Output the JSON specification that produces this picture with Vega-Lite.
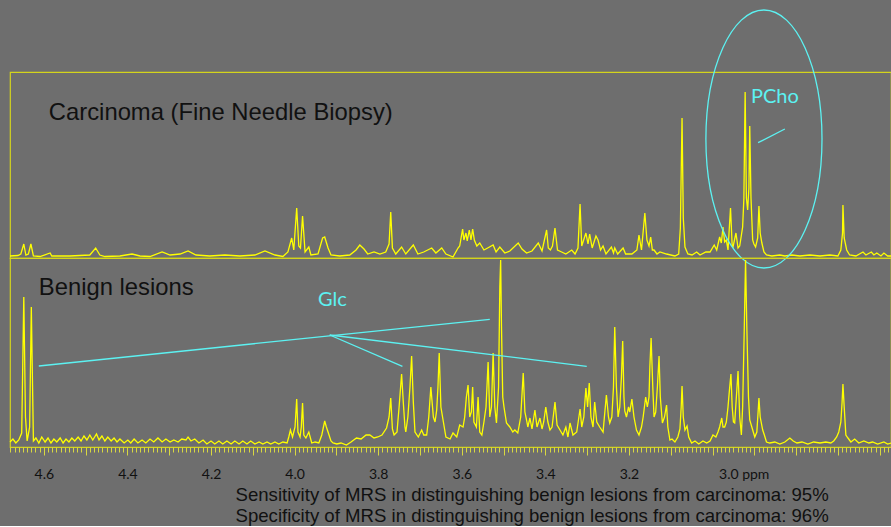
{
"$schema": "https://vega.github.io/schema/vega-lite/v6.json",
"background": "#6e6e6e",
"padding": {"left": 6, "top": 6, "right": 0, "bottom": 0},
"bounds": "flush",
"spacing": 0,
"config": {"view": {"stroke": "#d4d41c", "strokeWidth": 1.2}},
"datasets": {
"top": [{"p":4.681,"v":2},{"p":4.662,"v":2.5},{"p":4.655,"v":4},{"p":4.648,"v":14},{"p":4.643,"v":3},{"p":4.637,"v":4},{"p":4.631,"v":14},{"p":4.625,"v":2},{"p":4.609,"v":1.5},{"p":4.585,"v":5},{"p":4.581,"v":2},{"p":4.538,"v":2},{"p":4.490,"v":3},{"p":4.476,"v":10},{"p":4.466,"v":3},{"p":4.454,"v":1.5},{"p":4.418,"v":2},{"p":4.389,"v":4},{"p":4.370,"v":2},{"p":4.346,"v":1.5},{"p":4.317,"v":6},{"p":4.298,"v":3},{"p":4.274,"v":4},{"p":4.255,"v":7},{"p":4.236,"v":3},{"p":4.203,"v":2},{"p":4.167,"v":3},{"p":4.131,"v":2},{"p":4.095,"v":3},{"p":4.071,"v":7},{"p":4.047,"v":3},{"p":4.028,"v":1.5},{"p":4.016,"v":6},{"p":4.007,"v":20},{"p":4.002,"v":8},{"p":3.995,"v":50},{"p":3.990,"v":12},{"p":3.986,"v":10},{"p":3.981,"v":42},{"p":3.975,"v":6},{"p":3.966,"v":11},{"p":3.961,"v":3},{"p":3.944,"v":4},{"p":3.933,"v":20},{"p":3.928,"v":21},{"p":3.920,"v":10},{"p":3.913,"v":3},{"p":3.892,"v":2},{"p":3.868,"v":3},{"p":3.853,"v":8},{"p":3.844,"v":13},{"p":3.834,"v":9},{"p":3.825,"v":4},{"p":3.810,"v":6},{"p":3.796,"v":4},{"p":3.782,"v":6},{"p":3.774,"v":14},{"p":3.770,"v":46},{"p":3.766,"v":10},{"p":3.758,"v":4},{"p":3.744,"v":11},{"p":3.734,"v":4},{"p":3.716,"v":13},{"p":3.705,"v":4},{"p":3.691,"v":6},{"p":3.672,"v":10},{"p":3.662,"v":5},{"p":3.648,"v":10},{"p":3.638,"v":4},{"p":3.621,"v":1},{"p":3.609,"v":10},{"p":3.605,"v":12},{"p":3.598,"v":29},{"p":3.595,"v":18},{"p":3.590,"v":25},{"p":3.587,"v":17},{"p":3.582,"v":28},{"p":3.578,"v":18},{"p":3.574,"v":29},{"p":3.570,"v":18},{"p":3.564,"v":12},{"p":3.557,"v":15},{"p":3.547,"v":8},{"p":3.538,"v":10},{"p":3.525,"v":13},{"p":3.518,"v":6},{"p":3.509,"v":11},{"p":3.497,"v":5},{"p":3.485,"v":7},{"p":3.465,"v":15},{"p":3.456,"v":9},{"p":3.445,"v":5},{"p":3.432,"v":7},{"p":3.417,"v":15},{"p":3.408,"v":7},{"p":3.397,"v":28},{"p":3.393,"v":10},{"p":3.388,"v":8},{"p":3.383,"v":12},{"p":3.377,"v":30},{"p":3.371,"v":8},{"p":3.361,"v":6},{"p":3.351,"v":4},{"p":3.337,"v":8},{"p":3.329,"v":4},{"p":3.322,"v":10},{"p":3.317,"v":54},{"p":3.313,"v":12},{"p":3.303,"v":25},{"p":3.298,"v":14},{"p":3.294,"v":24},{"p":3.288,"v":10},{"p":3.279,"v":22},{"p":3.274,"v":18},{"p":3.268,"v":8},{"p":3.262,"v":12},{"p":3.255,"v":4},{"p":3.242,"v":11},{"p":3.237,"v":5},{"p":3.234,"v":10},{"p":3.227,"v":4},{"p":3.214,"v":10},{"p":3.208,"v":4},{"p":3.193,"v":4},{"p":3.181,"v":8},{"p":3.176,"v":23},{"p":3.170,"v":8},{"p":3.162,"v":45},{"p":3.157,"v":18},{"p":3.152,"v":12},{"p":3.148,"v":21},{"p":3.144,"v":8},{"p":3.140,"v":8},{"p":3.133,"v":4},{"p":3.126,"v":6},{"p":3.110,"v":4},{"p":3.090,"v":2},{"p":3.081,"v":4},{"p":3.077,"v":30},{"p":3.073,"v":140},{"p":3.070,"v":40},{"p":3.066,"v":11},{"p":3.059,"v":4},{"p":3.049,"v":3},{"p":3.038,"v":6},{"p":3.030,"v":3},{"p":3.016,"v":6},{"p":3.006,"v":6},{"p":2.996,"v":13},{"p":2.990,"v":8},{"p":2.983,"v":21},{"p":2.979,"v":15},{"p":2.975,"v":31},{"p":2.971,"v":16},{"p":2.967,"v":18},{"p":2.963,"v":8},{"p":2.957,"v":50},{"p":2.953,"v":12},{"p":2.951,"v":11},{"p":2.944,"v":25},{"p":2.939,"v":10},{"p":2.935,"v":12},{"p":2.928,"v":31},{"p":2.925,"v":60},{"p":2.922,"v":166},{"p":2.919,"v":60},{"p":2.916,"v":48},{"p":2.913,"v":70},{"p":2.911,"v":132},{"p":2.908,"v":60},{"p":2.904,"v":18},{"p":2.901,"v":14},{"p":2.897,"v":11},{"p":2.892,"v":20},{"p":2.889,"v":52},{"p":2.886,"v":25},{"p":2.882,"v":15},{"p":2.877,"v":6},{"p":2.871,"v":3},{"p":2.858,"v":2},{"p":2.839,"v":3},{"p":2.827,"v":2},{"p":2.810,"v":3},{"p":2.791,"v":2},{"p":2.767,"v":3},{"p":2.743,"v":2},{"p":2.719,"v":3},{"p":2.700,"v":2},{"p":2.693,"v":8},{"p":2.689,"v":25},{"p":2.688,"v":53},{"p":2.685,"v":20},{"p":2.679,"v":8},{"p":2.672,"v":3},{"p":2.657,"v":2},{"p":2.640,"v":6},{"p":2.633,"v":3},{"p":2.620,"v":6},{"p":2.614,"v":3},{"p":2.607,"v":5},{"p":2.597,"v":2},{"p":2.590,"v":5},{"p":2.581,"v":2},{"p":2.573,"v":2}],
"bottom": [{"p":4.681,"v":5},{"p":4.674,"v":8},{"p":4.667,"v":4},{"p":4.660,"v":7},{"p":4.653,"v":14},{"p":4.648,"v":150},{"p":4.644,"v":30},{"p":4.640,"v":6},{"p":4.634,"v":20},{"p":4.630,"v":140},{"p":4.625,"v":6},{"p":4.619,"v":9},{"p":4.612,"v":4},{"p":4.605,"v":10},{"p":4.597,"v":5},{"p":4.590,"v":9},{"p":4.583,"v":4},{"p":4.576,"v":8},{"p":4.569,"v":5},{"p":4.561,"v":9},{"p":4.554,"v":4},{"p":4.547,"v":8},{"p":4.540,"v":5},{"p":4.533,"v":9},{"p":4.526,"v":6},{"p":4.518,"v":10},{"p":4.511,"v":6},{"p":4.504,"v":11},{"p":4.497,"v":7},{"p":4.490,"v":12},{"p":4.483,"v":7},{"p":4.474,"v":13},{"p":4.468,"v":7},{"p":4.461,"v":11},{"p":4.454,"v":6},{"p":4.447,"v":10},{"p":4.439,"v":6},{"p":4.432,"v":9},{"p":4.425,"v":5},{"p":4.418,"v":8},{"p":4.408,"v":4},{"p":4.399,"v":7},{"p":4.392,"v":4},{"p":4.384,"v":8},{"p":4.375,"v":4},{"p":4.365,"v":7},{"p":4.356,"v":4},{"p":4.346,"v":8},{"p":4.337,"v":5},{"p":4.327,"v":9},{"p":4.317,"v":5},{"p":4.308,"v":8},{"p":4.298,"v":5},{"p":4.289,"v":7},{"p":4.279,"v":5},{"p":4.270,"v":8},{"p":4.260,"v":7},{"p":4.255,"v":10},{"p":4.248,"v":6},{"p":4.239,"v":8},{"p":4.229,"v":4},{"p":4.219,"v":7},{"p":4.210,"v":3},{"p":4.200,"v":6},{"p":4.191,"v":3},{"p":4.181,"v":6},{"p":4.172,"v":3},{"p":4.162,"v":6},{"p":4.152,"v":3},{"p":4.143,"v":6},{"p":4.133,"v":3},{"p":4.124,"v":6},{"p":4.114,"v":3},{"p":4.105,"v":6},{"p":4.095,"v":3},{"p":4.085,"v":5},{"p":4.076,"v":3},{"p":4.066,"v":5},{"p":4.057,"v":3},{"p":4.047,"v":5},{"p":4.038,"v":3},{"p":4.028,"v":5},{"p":4.018,"v":4},{"p":4.014,"v":10},{"p":4.010,"v":17},{"p":4.005,"v":10},{"p":3.999,"v":20},{"p":3.995,"v":48},{"p":3.992,"v":15},{"p":3.987,"v":10},{"p":3.984,"v":20},{"p":3.981,"v":44},{"p":3.978,"v":12},{"p":3.973,"v":9},{"p":3.966,"v":15},{"p":3.959,"v":4},{"p":3.951,"v":5},{"p":3.942,"v":4},{"p":3.935,"v":12},{"p":3.928,"v":26},{"p":3.924,"v":20},{"p":3.920,"v":15},{"p":3.913,"v":6},{"p":3.908,"v":4},{"p":3.899,"v":3},{"p":3.889,"v":4},{"p":3.876,"v":2},{"p":3.865,"v":5},{"p":3.852,"v":9},{"p":3.841,"v":8},{"p":3.829,"v":12},{"p":3.820,"v":12},{"p":3.810,"v":9},{"p":3.801,"v":10},{"p":3.791,"v":12},{"p":3.780,"v":19},{"p":3.774,"v":30},{"p":3.770,"v":49},{"p":3.766,"v":18},{"p":3.762,"v":12},{"p":3.755,"v":15},{"p":3.750,"v":40},{"p":3.744,"v":73},{"p":3.740,"v":45},{"p":3.736,"v":20},{"p":3.734,"v":15},{"p":3.729,"v":30},{"p":3.724,"v":60},{"p":3.720,"v":91},{"p":3.716,"v":45},{"p":3.712,"v":15},{"p":3.704,"v":10},{"p":3.696,"v":17},{"p":3.691,"v":12},{"p":3.684,"v":12},{"p":3.679,"v":30},{"p":3.674,"v":60},{"p":3.668,"v":30},{"p":3.664,"v":25},{"p":3.660,"v":37},{"p":3.657,"v":60},{"p":3.654,"v":94},{"p":3.650,"v":40},{"p":3.644,"v":25},{"p":3.638,"v":10},{"p":3.628,"v":8},{"p":3.621,"v":14},{"p":3.612,"v":10},{"p":3.605,"v":22},{"p":3.597,"v":20},{"p":3.593,"v":30},{"p":3.589,"v":50},{"p":3.585,"v":62},{"p":3.581,"v":30},{"p":3.577,"v":35},{"p":3.574,"v":60},{"p":3.571,"v":25},{"p":3.565,"v":20},{"p":3.561,"v":50},{"p":3.557,"v":15},{"p":3.552,"v":12},{"p":3.547,"v":25},{"p":3.542,"v":40},{"p":3.537,"v":85},{"p":3.533,"v":30},{"p":3.529,"v":40},{"p":3.525,"v":94},{"p":3.521,"v":40},{"p":3.517,"v":24},{"p":3.512,"v":60},{"p":3.509,"v":160},{"p":3.507,"v":187},{"p":3.505,"v":120},{"p":3.502,"v":50},{"p":3.499,"v":40},{"p":3.493,"v":24},{"p":3.485,"v":20},{"p":3.478,"v":15},{"p":3.473,"v":17},{"p":3.466,"v":14},{"p":3.459,"v":30},{"p":3.453,"v":74},{"p":3.449,"v":35},{"p":3.445,"v":27},{"p":3.442,"v":20},{"p":3.437,"v":29},{"p":3.432,"v":18},{"p":3.425,"v":37},{"p":3.420,"v":20},{"p":3.413,"v":29},{"p":3.408,"v":18},{"p":3.404,"v":25},{"p":3.399,"v":40},{"p":3.394,"v":25},{"p":3.389,"v":17},{"p":3.384,"v":20},{"p":3.377,"v":45},{"p":3.372,"v":22},{"p":3.365,"v":17},{"p":3.358,"v":12},{"p":3.351,"v":20},{"p":3.346,"v":10},{"p":3.341,"v":24},{"p":3.334,"v":12},{"p":3.325,"v":15},{"p":3.317,"v":38},{"p":3.313,"v":20},{"p":3.308,"v":30},{"p":3.303,"v":59},{"p":3.299,"v":40},{"p":3.295,"v":64},{"p":3.291,"v":30},{"p":3.286,"v":20},{"p":3.282,"v":45},{"p":3.277,"v":25},{"p":3.270,"v":20},{"p":3.262,"v":15},{"p":3.254,"v":52},{"p":3.249,"v":30},{"p":3.246,"v":24},{"p":3.241,"v":30},{"p":3.237,"v":60},{"p":3.234,"v":120},{"p":3.230,"v":60},{"p":3.226,"v":30},{"p":3.222,"v":40},{"p":3.218,"v":70},{"p":3.215,"v":106},{"p":3.212,"v":50},{"p":3.210,"v":36},{"p":3.206,"v":30},{"p":3.201,"v":40},{"p":3.198,"v":35},{"p":3.193,"v":48},{"p":3.188,"v":30},{"p":3.182,"v":17},{"p":3.176,"v":12},{"p":3.170,"v":20},{"p":3.166,"v":30},{"p":3.160,"v":50},{"p":3.156,"v":40},{"p":3.152,"v":50},{"p":3.150,"v":80},{"p":3.147,"v":109},{"p":3.143,"v":60},{"p":3.140,"v":30},{"p":3.136,"v":35},{"p":3.132,"v":60},{"p":3.128,"v":91},{"p":3.125,"v":50},{"p":3.120,"v":24},{"p":3.115,"v":30},{"p":3.110,"v":42},{"p":3.107,"v":20},{"p":3.102,"v":7},{"p":3.097,"v":8},{"p":3.090,"v":5},{"p":3.083,"v":10},{"p":3.078,"v":18},{"p":3.075,"v":40},{"p":3.073,"v":61},{"p":3.070,"v":30},{"p":3.066,"v":17},{"p":3.061,"v":21},{"p":3.057,"v":10},{"p":3.050,"v":4},{"p":3.042,"v":6},{"p":3.033,"v":3},{"p":3.023,"v":6},{"p":3.014,"v":4},{"p":3.006,"v":6},{"p":2.999,"v":12},{"p":2.992,"v":10},{"p":2.987,"v":15},{"p":2.983,"v":20},{"p":2.978,"v":29},{"p":2.975,"v":20},{"p":2.971,"v":20},{"p":2.967,"v":25},{"p":2.963,"v":40},{"p":2.960,"v":55},{"p":2.956,"v":73},{"p":2.953,"v":40},{"p":2.950,"v":25},{"p":2.947,"v":24},{"p":2.943,"v":50},{"p":2.939,"v":76},{"p":2.935,"v":30},{"p":2.931,"v":12},{"p":2.928,"v":40},{"p":2.924,"v":120},{"p":2.921,"v":187},{"p":2.918,"v":120},{"p":2.914,"v":50},{"p":2.911,"v":27},{"p":2.906,"v":20},{"p":2.899,"v":10},{"p":2.894,"v":15},{"p":2.891,"v":35},{"p":2.889,"v":49},{"p":2.886,"v":30},{"p":2.880,"v":17},{"p":2.876,"v":12},{"p":2.871,"v":5},{"p":2.863,"v":4},{"p":2.851,"v":5},{"p":2.839,"v":3},{"p":2.827,"v":5},{"p":2.815,"v":9},{"p":2.807,"v":6},{"p":2.798,"v":4},{"p":2.786,"v":5},{"p":2.772,"v":3},{"p":2.758,"v":5},{"p":2.743,"v":4},{"p":2.729,"v":5},{"p":2.717,"v":4},{"p":2.710,"v":6},{"p":2.703,"v":10},{"p":2.698,"v":15},{"p":2.693,"v":25},{"p":2.690,"v":45},{"p":2.688,"v":63},{"p":2.685,"v":40},{"p":2.681,"v":12},{"p":2.676,"v":9},{"p":2.669,"v":5},{"p":2.660,"v":8},{"p":2.650,"v":4},{"p":2.638,"v":6},{"p":2.626,"v":4},{"p":2.617,"v":5},{"p":2.605,"v":3},{"p":2.590,"v":5},{"p":2.581,"v":3},{"p":2.573,"v":4}]
},
"vconcat": [
{
"width": 881, "height": 186,
"layer": [
{"data": {"name": "top"}, "mark": {"type": "line", "color": "#ffff00", "strokeWidth": 1.3},
 "encoding": {"x": {"field": "p", "type": "quantitative", "scale": {"domain": [4.681, 2.573], "nice": false, "zero": false}, "axis": null},
  "y": {"field": "v", "type": "quantitative", "scale": {"domain": [0, 186], "nice": false, "zero": false}, "axis": null}}},
{"data": {"values": [{"p": 4.588, "v": 138, "t": "Carcinoma (Fine Needle Biopsy)"}]},
 "mark": {"type": "text", "align": "left", "baseline": "alphabetic", "font": "Liberation Sans", "fontSize": 23.8, "color": "#111111"},
 "encoding": {"x": {"field": "p", "type": "quantitative"}, "y": {"field": "v", "type": "quantitative"}, "text": {"field": "t"}}},
{"data": {"values": [{"p": 2.908, "v": 155, "t": "PCho"}]},
 "mark": {"type": "text", "align": "left", "baseline": "alphabetic", "font": "Lato", "fontSize": 20, "color": "#5cf2f2"},
 "encoding": {"x": {"field": "p", "type": "quantitative"}, "y": {"field": "v", "type": "quantitative"}, "text": {"field": "t"}}},
{"data": {"values": [{"p": 2.891, "v": 115.3, "p2": 2.827, "v2": 129}]},
 "mark": {"type": "rule", "color": "#5cf2f2", "strokeWidth": 1.3},
 "encoding": {"x": {"field": "p", "type": "quantitative"}, "y": {"field": "v", "type": "quantitative"}, "x2": {"field": "p2"}, "y2": {"field": "v2"}}},
{"data": {"values": [{"p": 2.877, "v": 119}]},
 "mark": {"type": "point", "shape": "M0.45,0C0.45,0.5523 0.2485,1 0,1C-0.2485,1 -0.45,0.5523 -0.45,0C-0.45,-0.5523 -0.2485,-1 0,-1C0.2485,-1 0.45,-0.5523 0.45,0Z", "size": 66564, "filled": false, "color": "#5cf2f2", "strokeWidth": 1.3, "opacity": 1},
 "encoding": {"x": {"field": "p", "type": "quantitative"}, "y": {"field": "v", "type": "quantitative"}}}
]
},
{
"width": 881, "height": 189,
"layer": [
{"data": {"name": "bottom"}, "mark": {"type": "line", "color": "#ffff00", "strokeWidth": 1.3},
 "encoding": {"x": {"field": "p", "type": "quantitative", "scale": {"domain": [4.681, 2.573], "nice": false, "zero": false},
   "axis": {"orient": "bottom", "domain": false, "grid": false, "tickCount": 210, "labelOverlap": false, "labelFlush": false,
    "tickColor": "#d8d840", "tickWidth": 1,
    "tickSize": {"condition": {"test": "abs(datum.value*10-round(datum.value*10))<0.001", "value": 8}, "value": 5},
    "labelExpr": "datum.value > 2.99 && abs(datum.value*5-round(datum.value*5))<0.001 ? (abs(datum.value-3)<0.001 ? '3.0 ppm' : format(datum.value,'.1f')) : ''",
    "labelFont": "Lato", "labelFontSize": 14, "labelColor": "#111111", "labelPadding": 12,
    "labelAlign": {"condition": {"test": "abs(datum.value-3)<0.001", "value": "left"}, "value": "center"},
    "labelOffset": {"condition": {"test": "abs(datum.value-3)<0.001", "value": 6}, "value": 0},
    "title": ["Sensitivity of MRS in distinguishing benign lesions from carcinoma: 95%", "Specificity of MRS in distinguishing benign lesions from carcinoma: 96%"],
    "titleFont": "Liberation Sans", "titleFontSize": 18.6, "titleFontWeight": "normal", "titleColor": "#111111",
    "titleAlign": "left", "titleAnchor": "start", "titleX": 225, "titleY": 53, "titleBaseline": "alphabetic", "titleLineHeight": 21}},
  "y": {"field": "v", "type": "quantitative", "scale": {"domain": [0, 189], "nice": false, "zero": false}, "axis": null}}},
{"data": {"values": [{"p": 4.612, "v": 152, "t": "Benign lesions"}]},
 "mark": {"type": "text", "align": "left", "baseline": "alphabetic", "font": "Liberation Sans", "fontSize": 23.8, "color": "#111111"},
 "encoding": {"x": {"field": "p", "type": "quantitative"}, "y": {"field": "v", "type": "quantitative"}, "text": {"field": "t"}}},
{"data": {"values": [{"p": 3.944, "v": 141, "t": "Glc"}]},
 "mark": {"type": "text", "align": "left", "baseline": "alphabetic", "font": "Lato", "fontSize": 20, "color": "#5cf2f2"},
 "encoding": {"x": {"field": "p", "type": "quantitative"}, "y": {"field": "v", "type": "quantitative"}, "text": {"field": "t"}}},
{"data": {"values": [{"p": 4.612, "v": 81, "p2": 3.533, "v2": 127.7}, {"p": 3.916, "v": 112, "p2": 3.301, "v2": 80.7}, {"p": 3.916, "v": 112, "p2": 3.742, "v2": 80.7}]},
 "mark": {"type": "rule", "color": "#5cf2f2", "strokeWidth": 1.3},
 "encoding": {"x": {"field": "p", "type": "quantitative"}, "y": {"field": "v", "type": "quantitative"}, "x2": {"field": "p2"}, "y2": {"field": "v2"}}}
]
}
]
}
